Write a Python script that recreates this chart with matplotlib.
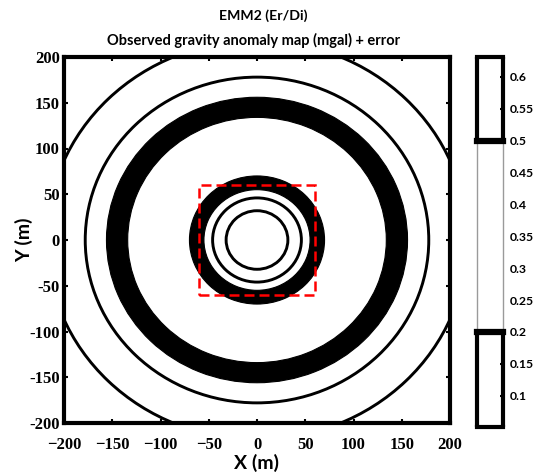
import numpy as np
import matplotlib
matplotlib.use('Agg')
import matplotlib.pyplot as plt
from matplotlib.patches import Circle, Annulus, Rectangle

# contour rings (radius in m)
thin_radii = [32, 46, 178, 218]
thick_rings = [(55, 70), (134, 156)]   # (inner, outer)
box_half = 60                          # red dashed box

ticks = [-200, -150, -100, -50, 0, 50, 100, 150, 200]
cbar_ticks = [0.1, 0.15, 0.2, 0.25, 0.3, 0.35, 0.4, 0.45, 0.5, 0.55, 0.6]
cbar_labels = ['0.1', '0.15', '0.2', '0.25', '0.3', '0.35', '0.4', '0.45', '0.5', '0.55', '0.6']
cbar_lines = [0.2, 0.5]
cbar_lim = (0.051, 0.631)

fig = plt.figure(figsize=(5.4, 4.74), dpi=100)
ax = fig.add_axes([64/540, 51/474, 386/540, 366/474])

for r in thin_radii:
    ax.add_patch(Circle((0, 0), r, fill=False, ec='black', lw=2.1))
for r_in, r_out in thick_rings:
    ax.add_patch(Annulus((0, 0), r_out, r_out - r_in, fc='black', ec='black', lw=0.8))

ax.add_patch(Rectangle((-box_half, -box_half), 2*box_half, 2*box_half,
                       fill=False, ec='red', lw=1.8, ls=(0, (4, 2))))

ax.set_xlim(-200, 200)
ax.set_ylim(-200, 200)
ax.set_xticks(ticks)
ax.set_yticks(ticks)
ax.set_xticklabels([str(t).replace('-', '\u2212') for t in ticks])
ax.set_yticklabels([str(t) for t in ticks])
ax.tick_params(direction='in', length=3, width=1.5, top=True, right=True, pad=3)
ax.tick_params(axis='x', pad=10)
for lab in ax.get_xticklabels() + ax.get_yticklabels():
    lab.set_fontfamily('Liberation Serif')
    lab.set_fontweight('bold')
    lab.set_fontsize(12)
for s in ax.spines.values():
    s.set_linewidth(3)
ax.set_xlabel('X (m)', family='Lato', weight='bold', fontsize=14, labelpad=1)
ax.set_ylabel('Y (m)', family='Lato', weight='bold', fontsize=14, labelpad=-3)

fig.text(0.487, 0.968, 'EMM2 (Er/Di)', ha='center', va='center',
         family='Lato', weight='bold', fontsize=10.2)
fig.text(0.47, 0.915, 'Observed gravity anomaly map (mgal) + error', ha='center', va='center',
         family='Lato', weight='bold', fontsize=10.5)

# colorbar-like strip
cax = fig.add_axes([477/540, 47/474, 26/540, 370/474])
cax.set_xlim(0, 1)
cax.set_ylim(*cbar_lim)
for s in cax.spines.values():
    s.set_visible(False)
lo, hi = cbar_lim
for x in (0, 1):
    cax.plot([x, x], [lo, cbar_lines[0]], color='black', lw=3, solid_capstyle='butt', clip_on=False)
    cax.plot([x, x], [cbar_lines[1], hi], color='black', lw=3, solid_capstyle='butt', clip_on=False)
    cax.plot([x, x], cbar_lines, color='#9a9a9a', lw=1, clip_on=False)
for y in (lo, hi):
    cax.plot([0, 1], [y, y], color='black', lw=3, clip_on=False)
for y in cbar_lines:
    cax.plot([0, 1], [y, y], color='black', lw=4.5, clip_on=False)
cax.set_xticks([])
cax.set_yticks(cbar_ticks)
cax.set_yticklabels(cbar_labels)
cax.yaxis.tick_right()
cax.tick_params(axis='y', direction='in', length=2, width=1.5, pad=5)
for t, v in zip(cax.yaxis.get_major_ticks(), cbar_ticks):
    if cbar_lines[0] < v < cbar_lines[1]:
        t.tick2line.set_visible(False)
for lab in cax.get_yticklabels():
    lab.set_fontfamily('Lato')
    lab.set_fontweight('bold')
    lab.set_fontsize(8.8)

fig.savefig('out.png', dpi=100)
